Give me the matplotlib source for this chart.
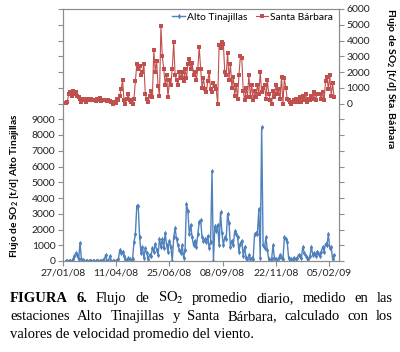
import numpy as np
import matplotlib
matplotlib.use("Agg")
import matplotlib.pyplot as plt
import matplotlib.dates as mdates
from matplotlib.lines import Line2D

plt.rcParams['font.family'] = 'Lato'
plt.rcParams['mathtext.fontset'] = 'custom'
plt.rcParams['mathtext.rm'] = 'Lato'
plt.rcParams['mathtext.bf'] = 'Lato:bold'

# daily series, one reading every 2 days starting 31/01/08
start = np.datetime64('2008-01-31')
step = 2

santa_barbara = [
    50, 100, 600, 700, 500, 800, 600, 700,
    500, 400, 300, 100, 300, 200, 100, 300, 300, 200,
    300, 200, 250, 150, 300, 200, 350, 150, 200, 250,
    200, 150, 250, 150, 100, 0, 100, 50, 300, 200,
    500, 900, 1500, 200, 0, 300, 600, 200, 100, 0,
    300, 1400, 2500, 2200, 2400, 1800, 2000, 2500, 600, 300,
    100, 500, 800, 400, 3400, 2000, 2700, 1100, 500, 4900,
    3000, 2200, 1200, 1800, 400, 1500, 1200, 2200, 3900, 1800,
    1500, 1200, 2000, 1600, 2000, 1400, 2200, 1600, 2500, 2800,
    2200, 2600, 1800, 2000, 1500, 2200, 3600, 2200, 1000, 1600,
    900, 700, 1400, 2000, 900, 700, 1300, 1100, 900, 0,
    3700, 3500, 3900, 3800, 2000, 1800, 3200, 1500, 2500, 1000,
    1700, 500, 1200, 300, 1800, 3000, 2900, 800, 200, 1000,
    400, 1800, 400, 1200, 200, 800, 400, 1200, 600, 2000,
    700, 1000, 1200, 300, 1500, 600, 200, 0, 800, 400,
    1200, 600, 900, 300, 1700, 0, 1600, 1000, 300, 200,
    100, 0, 100, 200, 300, 100, 200, 400, 100, 500,
    200, 600, 100, 300, 200, 500, 300, 700, 200, 600,
    600, 600, 300, 700, 200, 1400, 1700, 900, 1800, 500,
    1300, 400,
]

alto_tinajillas = [
    0, 0, 0, 0, 0, 100, 300, 500,
    400, 100, 1150, 100, 50, 0, 0, 0, 0, 0,
    0, 0, 0, 0, 0, 0, 0, 0, 50, 0,
    400, 0, 0, 300, 0, 0, 0, 0, 0, 100,
    700, 500, 600, 300, 100, 0, 200, 100, 0, 100,
    1200, 1700, 3500, 3500, 1500, 500, 900, 200, 800, 500,
    100, 400, 300, 800, 600, 1100, 700, 400, 1400, 900,
    1400, 800, 1800, 1000, 600, 1300, 900, 0, 1500, 2100,
    1400, 1000, 700, 500, 1000, 200, 700, 3600, 3200, 1700,
    2300, 1500, 1000, 1300, 900, 1700, 2500, 2600, 1500, 1300,
    1400, 1200, 1600, 800, 1200, 5700, 0, 2200, 1900, 2300,
    1000, 3100, 1800, 1000, 1500, 1400, 3000, 2400, 900, 1300,
    1000, 1900, 1700, 1500, 600, 1100, 1300, 300, 900, 200,
    100, 400, 100, 200, 100, 1700, 1800, 1700, 3300, 200,
    8500, 1000, 800, 1500, 700, 100, 0, 100, 1000, 200,
    100, 0, 200, 400, 200, 100, 1500, 1400, 1200, 200,
    0, 100, 100, 200, 100, 200, 400, 300, 200, 900,
    500, 300, 200, 100, 300, 900, 400, 500, 300, 600,
    500, 300, 600, 900, 600, 1100, 1000, 1700, 800, 900,
    100, 400,
]

tick_dates = ['2008-01-27', '2008-04-11', '2008-06-25',
              '2008-09-08', '2008-11-22', '2009-02-05']

caption_lines = [
    [("FIGURA", "bold"), ("6.", "bold"), ("Flujo", "normal"), ("de", "normal"),
     ("SO$_2$", "normal"), ("promedio", "normal"), ("diario,", "normal"),
     ("medido", "normal"), ("en", "normal"), ("las", "normal")],
    [("estaciones", "normal"), ("Alto", "normal"), ("Tinajillas", "normal"),
     ("y", "normal"), ("Santa", "normal"), ("Bárbara,", "normal"),
     ("calculado", "normal"), ("con", "normal"), ("los", "normal")],
    "valores de velocidad promedio del viento.",
]

blue = '#4F81BD'
red = '#C0504D'
grey = '#8C8C8C'

W, H = 400, 352
fig = plt.figure(figsize=(W / 100, H / 100), dpi=100)
ax = fig.add_axes([63 / W, 1 - 261 / H, 276 / W, 252 / H])
ax2 = ax.twinx()

x_at = start + np.arange(len(alto_tinajillas)) * np.timedelta64(step, 'D')
x_sb = start + np.arange(len(santa_barbara)) * np.timedelta64(step, 'D')

ax.plot(x_at, alto_tinajillas, color=blue, lw=1.0, marker='d', ms=2.8, mew=0)
ax2.plot(x_sb, santa_barbara, color=red, lw=0.8, marker='s', ms=2.3, mew=0)

ax.set_ylim(0, 16000)
ax2.set_ylim(-10000, 6000)
lt = list(range(0, 16001, 1000))
ax.set_yticks(lt)
ax.set_yticklabels([str(v) if v <= 9000 else '' for v in lt])
rt = list(range(-10000, 6001, 1000))
ax2.set_yticks(rt)
ax2.set_yticklabels([str(v) if v >= 0 else '' for v in rt])

ax.set_xlim(np.datetime64('2008-01-27'), np.datetime64('2009-02-19'))
ax.set_xticks([np.datetime64(d) for d in tick_dates])
ax.xaxis.set_major_formatter(mdates.DateFormatter('%d/%m/%y'))

for a in (ax, ax2):
    for s in a.spines.values():
        s.set_color(grey)
        s.set_linewidth(0.8)
    a.tick_params(axis='both', labelsize=7.5, colors=grey, labelcolor='#222222',
                  length=3.5, width=0.8, pad=2)

fig.text(15 / W, 1 - 186 / H, r'Flujo de SO$_\mathbf{2}$ [t/d] Alto Tinajillas',
         rotation=90, ha='center', va='center', fontsize=7.3, fontweight='bold')
fig.text(390 / W, 1 - 8 / H, r'Flujo de SO$_\mathbf{2}$ [t/d] Sta. Bárbara',
         rotation=270, ha='center', va='top', fontsize=7.5, fontweight='bold')

handles = [Line2D([], [], color=blue, lw=1.0, marker='d', ms=2.8, mew=0),
           Line2D([], [], color=red, lw=0.8, marker='s', ms=2.3, mew=0)]
ax2.legend(handles, ['Alto Tinajillas', 'Santa Bárbara'], ncol=2, frameon=False,
           loc='upper right', bbox_to_anchor=(1.0, 1.01), fontsize=7.4,
           handlelength=1.2, handletextpad=0.2, columnspacing=0.8, borderaxespad=0.2)

# justified caption
cap_left, cap_right = 10, 393
cap_base = [302, 320, 338]
cap_size = 10.5
renderer = fig.canvas.get_renderer()
for line, yb in zip(caption_lines, cap_base):
    if isinstance(line, str):
        fig.text(cap_left / W, 1 - yb / H, line, family='Liberation Serif',
                 fontsize=cap_size, va='baseline', ha='left')
        continue
    texts = [fig.text(0, 1 - yb / H, w, family='Liberation Serif', fontweight=wt,
                      fontsize=cap_size, va='baseline', ha='left', math_fontfamily='stix')
             for w, wt in line]
    widths = [t.get_window_extent(renderer).width for t in texts]
    gap = (cap_right - cap_left - sum(widths)) / (len(texts) - 1)
    xpos = cap_left
    for t, w in zip(texts, widths):
        t.set_x(xpos / W)
        xpos += w + gap

fig.savefig('out.png', dpi=100)
